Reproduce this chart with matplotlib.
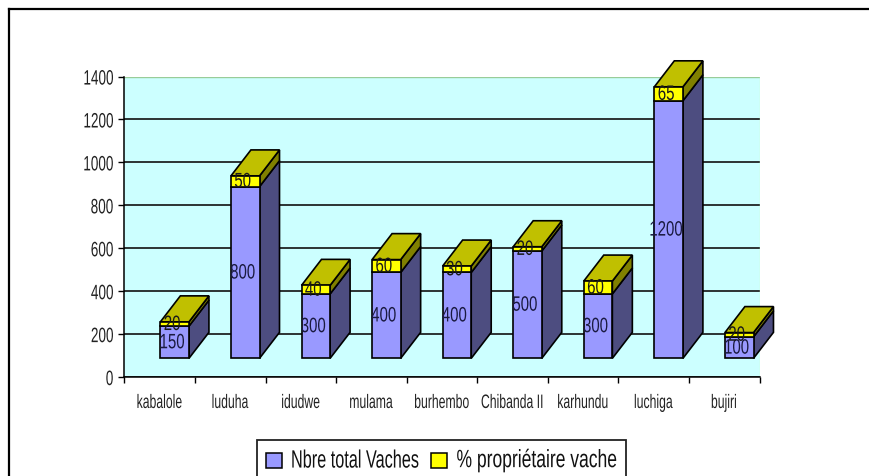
import matplotlib
matplotlib.use("Agg")
import matplotlib.pyplot as plt
from matplotlib.patches import Rectangle
from matplotlib.patheffects import AbstractPathEffect
from matplotlib.transforms import Affine2D

plt.rcParams['font.family'] = ['Liberation Sans', 'DejaVu Sans']

# Data
categories = ["kabalole", "luduha", "idudwe", "mulama", "burhembo",
              "Chibanda II", "karhundu", "luchiga", "bujiri"]
nb_vaches = [150, 800, 300, 400, 400, 500, 300, 1200, 100]
pct_proprio = [20, 50, 40, 60, 30, 20, 60, 65, 20]
yticks = [0, 200, 400, 600, 800, 1000, 1200, 1400]
legend_labels = ["Nbre total Vaches", "% propriétaire vache"]


# No condensed font is installed: small font, glyphs stretched upward when drawn
class Tall(AbstractPathEffect):
    def __init__(self, sy):
        super().__init__()
        self.sy = sy

    def draw_path(self, renderer, gc, tpath, affine, rgbFace=None):
        # text paths use a 100 unit em, 35 is about mid height of a digit
        stretch = Affine2D().translate(0, -35).scale(1, self.sy).translate(0, 35)
        renderer.draw_path(gc, tpath, stretch + affine, rgbFace)


W, H = 869, 477
fig = plt.figure(figsize=(W / 100, H / 100), dpi=100)
ax = fig.add_axes([124.4 / W, 1 - 378 / H, 635.1 / W, 300.5 / H])
ax.set_xlim(0, len(categories))
ax.set_ylim(0, 1400)
ax.set_facecolor('#CCFFFF')


def fx(px):
    return px / W


def fy(px):
    return 1 - px / H


# Outer frame: only the top and left sides are visible
fig.add_artist(plt.Line2D([fx(8.5), 1], [fy(10), fy(10)], color='black', lw=1.6))
fig.add_artist(plt.Line2D([fx(8.5), fx(8.5)], [fy(10), 0], color='black', lw=1.6))

# 3D look of the bars, in data units
base = 87
dx = 0.283
dy = 121
bw = 0.405
lw = 1.2

blue, blue_side = '#9999FF', '#4D4D80'
yellow, yellow_side, yellow_top = '#FFFF00', '#808000', '#C0C000'

for i in range(len(categories)):
    x0 = i + 0.51
    x1 = x0 + bw
    y1 = base + nb_vaches[i]
    y2 = y1 + pct_proprio[i]
    z = 3 + i
    kw = dict(edgecolor='black', linewidth=lw, clip_on=False, zorder=z)
    ax.fill([x1, x1 + dx, x1 + dx, x1], [base, base + dy, y1 + dy, y1], facecolor=blue_side, **kw)
    ax.fill([x1, x1 + dx, x1 + dx, x1], [y1, y1 + dy, y2 + dy, y2], facecolor=yellow_side, **kw)
    ax.fill([x0, x0 + dx, x1 + dx, x1], [y2, y2 + dy, y2 + dy, y2], facecolor=yellow_top, **kw)
    ax.bar(x0, nb_vaches[i], bw, bottom=base, align='edge', color=blue, **kw)
    ax.bar(x0, pct_proprio[i], bw, bottom=y1, align='edge', color=yellow, **kw)
    xm = x0 + bw / 2 - 0.035
    t1 = ax.text(xm, base + nb_vaches[i] / 2, str(nb_vaches[i]), ha='center', va='center',
                 fontsize=10.8, color='#1a1a40', zorder=30)
    t2 = ax.text(xm, y1 + pct_proprio[i] / 2, str(pct_proprio[i]), ha='center', va='center',
                 fontsize=10.8, color='#1a1a1a', zorder=30)
    t1.set_path_effects([Tall(1.39)])
    t2.set_path_effects([Tall(1.39)])

# Axes
ax.set_yticks(yticks)
ax.set_xticks(range(len(categories) + 1))
ax.set_xticklabels([])
ax.set_xticks([i + 0.5 for i in range(len(categories))], minor=True)
ax.set_xticklabels(categories, minor=True, fontsize=8.8, color='#222222')
ax.tick_params(axis='x', which='minor', length=0, pad=14)
ax.tick_params(axis='x', which='major', length=4, width=1.0, direction='out')
ax.tick_params(axis='y', length=4, width=1.0, labelsize=9.75, pad=4, labelcolor='#222222')
for t in ax.get_xticklabels(minor=True):
    t.set_path_effects([Tall(1.59)])
for t in ax.get_yticklabels():
    t.set_path_effects([Tall(1.54)])
ax.grid(axis='y', color='#111111', lw=1.2, zorder=1)
ax.set_axisbelow(True)
for s in ['top', 'right']:
    ax.spines[s].set_visible(False)
for s in ['left', 'bottom']:
    ax.spines[s].set_linewidth(1.1)
ax.axhline(1400, color='#99CC99', lw=1.0, zorder=2)
ax.axvline(len(categories), color='#CCFFCC', lw=1.0, zorder=2, ymin=0.003)

# Legend, its box runs off the bottom of the image
box = Rectangle((fx(257), fy(485)), fx(369), fy(440.5) - fy(485), transform=fig.transFigure,
                facecolor='white', edgecolor='#222222', lw=1.3)
fig.add_artist(box)
swatches = [(266, blue), (431, yellow)]
for (sx0, col) in swatches:
    fig.add_artist(Rectangle((fx(sx0), fy(469)), fx(16), fy(454) - fy(469), transform=fig.transFigure,
                             facecolor=col, edgecolor='black', lw=1.1))
for label, tx, size, sy in zip(legend_labels, [291, 456.5], [11.7, 12.6], [1.54, 1.43]):
    t = fig.text(fx(tx), fy(461), label, fontsize=size, va='center', ha='left', color='#111111')
    t.set_path_effects([Tall(sy)])

fig.savefig("out.png", dpi=100)
